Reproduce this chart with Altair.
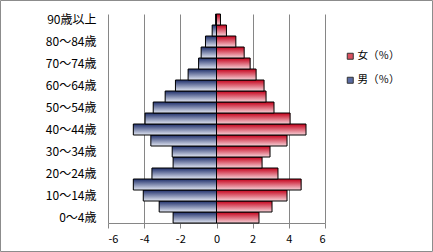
import altair as alt
import pandas as pd

ages = ["0～4歳", "5～9歳", "10～14歳", "15～19歳", "20～24歳", "25～29歳",
        "30～34歳", "35～39歳", "40～44歳", "45～49歳", "50～54歳", "55～59歳",
        "60～64歳", "65～69歳", "70～74歳", "75～79歳", "80～84歳", "85～89歳",
        "90歳以上"]
male_pct = [2.40, 3.17, 4.05, 4.60, 3.57, 2.40, 2.45, 3.63, 4.60, 3.95,
            3.50, 2.84, 2.27, 1.57, 0.99, 0.85, 0.61, 0.24, 0.05]
female_pct = [2.35, 3.07, 3.90, 4.68, 3.40, 2.52, 2.96, 3.90, 4.95, 4.07,
              3.18, 2.74, 2.63, 2.19, 1.86, 1.53, 1.07, 0.55, 0.22]
x_ticks = [-6, -4, -2, 0, 2, 4, 6]
label_f = "女（％）"
label_m = "男（％）"

rows = []
for a, m, f in zip(ages, male_pct, female_pct):
    rows.append({"age": a, "sex": label_m, "value": -m})
    rows.append({"age": a, "sex": label_f, "value": f})
df = pd.DataFrame(rows)

FONT = "Noto Sans CJK JP"
GRID = "#868686"

grad_m = alt.Gradient(gradient="linear", x1=0, x2=0, y1=0, y2=1,
                      stops=[alt.GradientStop(color="#1E2E6A", offset=0),
                             alt.GradientStop(color="#E2E7F3", offset=1)])
grad_f = alt.Gradient(gradient="linear", x1=0, x2=0, y1=0, y2=1,
                      stops=[alt.GradientStop(color="#C4001A", offset=0),
                             alt.GradientStop(color="#F7D3D9", offset=1)])

x_enc = alt.X("value:Q",
              scale=alt.Scale(domain=[-6, 6], nice=False, zero=False),
              axis=alt.Axis(values=x_ticks, title=None, grid=True, gridColor=GRID,
                            gridOpacity=1, domainColor=GRID, tickColor=GRID,
                            tickSize=5, labelPadding=5, labelFont=FONT,
                            labelFontSize=11, labelColor="#000",
                            labelExpr="'' + datum.value"))
y_enc = alt.Y("age:N", sort=list(reversed(ages)),
              scale=alt.Scale(paddingInner=0, paddingOuter=0),
              axis=alt.Axis(values=ages[::2], title=None, ticks=False, domain=False,
                            grid=False, labelPadding=12, labelFont=FONT,
                            labelFontSize=12, labelColor="#000"))

base = alt.Chart(df)

legend_layer = base.mark_bar(strokeWidth=0).encode(
    x=x_enc, y=y_enc,
    color=alt.Color("sex:N",
                    scale=alt.Scale(domain=[label_f, label_m],
                                    range=["#D9505F", "#5A6BA3"]),
                    legend=alt.Legend(title=None, orient="none", legendX=237,
                                      legendY=37, symbolType="square",
                                      symbolSize=36, symbolStrokeColor="#333",
                                      symbolStrokeWidth=1, symbolOpacity=1,
                                      labelFont=FONT, labelFontSize=10.5,
                                      labelColor="#000", rowPadding=13,
                                      labelOffset=2)),
)

male_layer = base.transform_filter(alt.datum.sex == label_m).mark_bar(
    fill=grad_m, stroke="#000", strokeWidth=1).encode(x=x_enc, y=y_enc)
female_layer = base.transform_filter(alt.datum.sex == label_f).mark_bar(
    fill=grad_f, stroke="#000", strokeWidth=1).encode(x=x_enc, y=y_enc)

frame = alt.Chart(alt.Data(values=[{}])).mark_rect(
    filled=False, stroke="#8C8C8C", strokeWidth=1).encode(
    x=alt.value(-107.5), x2=alt.value(324.5),
    y=alt.value(-13.5), y2=alt.value(237.5))

chart = alt.layer(frame, legend_layer, male_layer, female_layer).properties(
    width=217, height=209,
    autosize=alt.AutoSizeParams(type="none"),
    padding={"left": 108, "top": 14, "right": 108, "bottom": 29},
    background="white",
).configure_view(stroke=None)

chart.save("out.html", embed_options={"renderer": "svg", "actions": False})
